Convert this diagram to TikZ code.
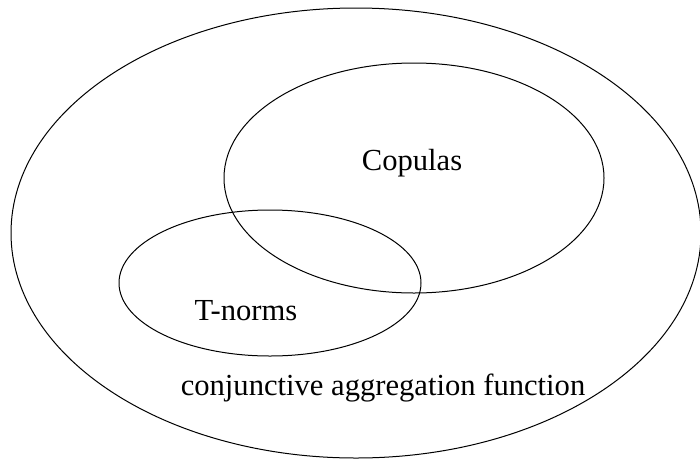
\documentclass[tikz,border=0pt]{standalone}
\usepackage{fontspec}
\setmainfont{Liberation Serif}
\begin{document}
\begin{tikzpicture}[x=1pt,y=-1pt,line width=1pt,
  lbl/.style={font=\fontsize{30.6}{36}\selectfont, inner sep=0pt}]
\useasboundingbox (0,0) rectangle (700,461);
\draw (356,233) ellipse [x radius=345, y radius=225];
\draw (414,178) ellipse [x radius=190, y radius=115];
\draw (270,283) ellipse [x radius=151, y radius=73];
\node[lbl] (cop) at (412,163) {Copulas};
\node[lbl] (tn) at (246,311) {T-norms};
\node[lbl] (caf) at (383,388) {conjunctive aggregation function};
\end{tikzpicture}
\end{document}
